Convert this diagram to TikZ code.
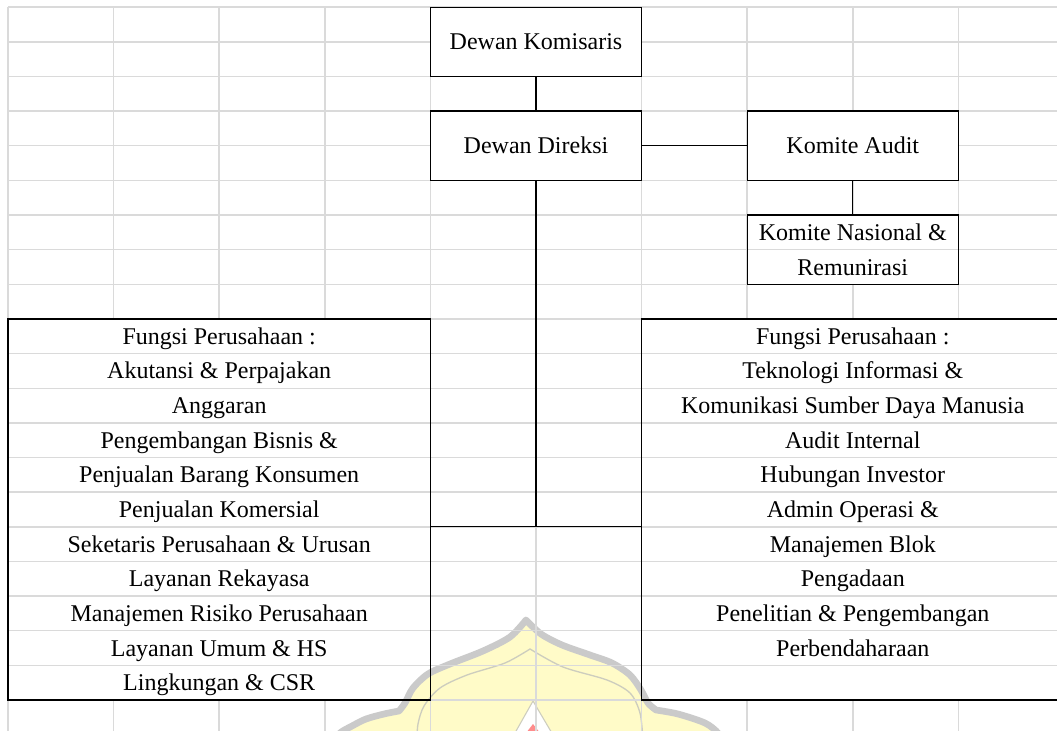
\documentclass[tikz,border=0pt]{standalone}
\usepackage{fontspec}
\setmainfont{Liberation Serif}
\definecolor{gridgray}{RGB}{218,218,218}
\definecolor{wmyellow}{RGB}{255,251,200}
\definecolor{wmgray}{RGB}{202,202,202}
\definecolor{wminner}{RGB}{205,205,190}
\tikzset{
  box/.style={draw, line width=1pt, inner sep=0pt, outer sep=0pt, text height=12pt, text depth=0pt, align=center},
  txt/.style={inner sep=0pt, text height=12pt, text depth=0pt},
  conn/.style={line width=1pt},
  gline/.style={draw=gridgray, line width=1.1pt}
}
\begin{document}
\begin{tikzpicture}[x=0.75pt, y=-0.75pt, font=\fontsize{18}{20}\selectfont]
\useasboundingbox (0,0) rectangle (1057,731);
\fill[white] (0,0) rectangle (1057,731);
\clip (0,0) rectangle (1057,731);
% watermark
\fill[wmyellow] plot[smooth] coordinates {(330,745) (340,733) (352,726) (366,719) (384,714) (399,711)}
  -- plot[smooth] coordinates {(399,711) (405,703) (413,688) (428,674) (450,664) (483,651) (510,637) (526,620)}
  -- plot[smooth] coordinates {(526,620) (541,634) (562,645) (590,655) (612,663) (630,675) (641,690) (648,703) (656,710)}
  -- plot[smooth] coordinates {(656,710) (678,714) (705,723) (718,733) (725,745)} -- cycle;
\draw[wmgray, line width=5pt, line join=round] plot[smooth] coordinates {(330,745) (340,733) (352,726) (366,719) (384,714) (399,711)}
  -- plot[smooth] coordinates {(399,711) (405,703) (413,688) (428,674) (450,664) (483,651) (510,637) (526,620)}
  -- plot[smooth] coordinates {(526,620) (541,634) (562,645) (590,655) (612,663) (630,675) (641,690) (648,703) (656,710)}
  -- plot[smooth] coordinates {(656,710) (678,714) (705,723) (718,733) (725,745)};
\draw[wminner, line width=1pt] plot[smooth] coordinates {(417,740) (418,724) (424,706) (440,688) (467,675) (505,663) (530,649)}
  -- plot[smooth] coordinates {(530,649) (563,667) (607,680) (630,693) (640,713) (643,740)};
\filldraw[fill=white, draw=wminner, line width=0.8pt] (533,701) -- (556,740) -- (511,740) -- cycle;
\fill[red!45] (533,724) -- (540,733) -- (526,733) -- cycle;
% grid
\begin{scope}[shift={(8,7.2)}, x=79.2pt, y=-25.98pt]
  \foreach \j in {0,2,3,5,6,7,8,9,10,11,12,13,14,15,16,17,18,19,20}
    \draw[gline] (0,\j) -- (10.5,\j);
  \draw[gline] (0,1) -- (4,1) (6,1) -- (10.5,1);
  \draw[gline] (0,4) -- (4,4) (6,4) -- (7,4) (9,4) -- (10.5,4);
  \foreach \i in {0,4,6}
    \draw[gline] (\i,0) -- (\i,21.5);
  \foreach \i in {1,2,3,7,9}
    \draw[gline] (\i,0) -- (\i,9) (\i,20) -- (\i,21.5);
  \draw[gline] (5,2) -- (5,3) (5,5) -- (5,21.5);
  \draw[gline] (8,0) -- (8,3) (8,5) -- (8,6) (8,8) -- (8,9) (8,20) -- (8,21.5);

  % boxes
  \node[box, minimum width=158.4pt, minimum height=51.96pt] (kom) at (5,1) {Dewan Komisaris};
  \node[box, minimum width=158.4pt, minimum height=51.96pt] (dir) at (5,4) {Dewan Direksi};
  \node[box, minimum width=158.4pt, minimum height=51.96pt] (aud) at (8,4) {Komite Audit};
  \node[box, minimum width=158.4pt, minimum height=51.96pt] (nas) at (8,7) {};
  \node[box, minimum width=316.8pt, minimum height=285.78pt] (lbox) at (2,14.5) {};
  \node[box, minimum width=316.8pt, minimum height=285.78pt] (rbox) at (8,14.5) {};
  \coordinate (junc) at (5,15);

  % connectors
  \draw[conn] (kom.south) -- (dir.north);
  \draw[conn] (dir.east) -- (aud.west);
  \draw[conn] (aud.south) -- (nas.north);
  \draw[conn] (dir.south) -- (junc);
  \draw[conn] (lbox.east |- junc) -- (rbox.west |- junc);

  % texts
  \node[txt] (n1) at (8,6.5) {Komite Nasional \&};
  \node[txt] (n2) at (8,7.5) {Remunirasi};

  \node[txt] (l1) at (2,9.5) {Fungsi Perusahaan :};
  \node[txt] (l2) at (2,10.5) {Akutansi \& Perpajakan};
  \node[txt] (l3) at (2,11.5) {Anggaran};
  \node[txt] (l4) at (2,12.5) {Pengembangan Bisnis \&};
  \node[txt] (l5) at (2,13.5) {Penjualan Barang Konsumen};
  \node[txt] (l6) at (2,14.5) {Penjualan Komersial};
  \node[txt] (l7) at (2,15.5) {Seketaris Perusahaan \& Urusan};
  \node[txt] (l8) at (2,16.5) {Layanan Rekayasa};
  \node[txt] (l9) at (2,17.5) {Manajemen Risiko Perusahaan};
  \node[txt] (l10) at (2,18.5) {Layanan Umum \& HS};
  \node[txt] (l11) at (2,19.5) {Lingkungan \& CSR};

  \node[txt] (r1) at (8,9.5) {Fungsi Perusahaan :};
  \node[txt] (r2) at (8,10.5) {Teknologi Informasi \&};
  \node[txt] (r3) at (8,11.5) {Komunikasi Sumber Daya Manusia};
  \node[txt] (r4) at (8,12.5) {Audit Internal};
  \node[txt] (r5) at (8,13.5) {Hubungan Investor};
  \node[txt] (r6) at (8,14.5) {Admin Operasi \&};
  \node[txt] (r7) at (8,15.5) {Manajemen Blok};
  \node[txt] (r8) at (8,16.5) {Pengadaan};
  \node[txt] (r9) at (8,17.5) {Penelitian \& Pengembangan};
  \node[txt] (r10) at (8,18.5) {Perbendaharaan};
\end{scope}
\end{tikzpicture}
\end{document}
